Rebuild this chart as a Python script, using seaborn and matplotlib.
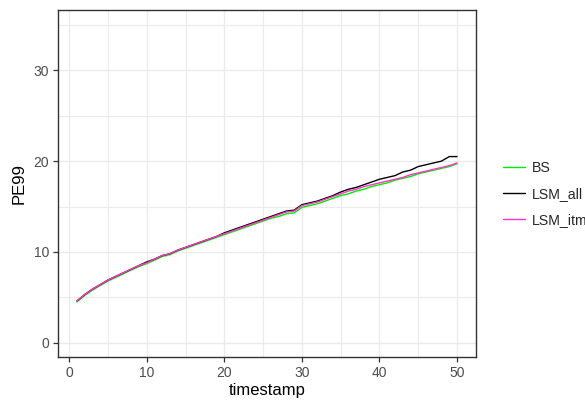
import numpy as np
import pandas as pd
import matplotlib
matplotlib.use('Agg')
import matplotlib.pyplot as plt
import seaborn as sns
from matplotlib.ticker import MultipleLocator

timestamp = list(range(1, 51))

bs = [4.5, 5.2, 5.8, 6.3, 6.8, 7.2, 7.6, 8.0, 8.4, 8.7,
      9.1, 9.5, 9.7, 10.1, 10.4, 10.7, 11.0, 11.3, 11.6, 11.9,
      12.2, 12.5, 12.8, 13.1, 13.4, 13.7, 13.9, 14.2, 14.3, 14.9,
      15.1, 15.3, 15.6, 15.9, 16.2, 16.4, 16.7, 16.9, 17.2, 17.4,
      17.6, 17.9, 18.1, 18.3, 18.6, 18.8, 19.0, 19.2, 19.4, 19.7]

lsm_all = [4.6, 5.3, 5.9, 6.4, 6.9, 7.3, 7.7, 8.1, 8.5, 8.9,
           9.2, 9.6, 9.8, 10.2, 10.5, 10.8, 11.1, 11.4, 11.7, 12.1,
           12.4, 12.7, 13.0, 13.3, 13.6, 13.9, 14.2, 14.5, 14.6, 15.2,
           15.4, 15.6, 15.9, 16.2, 16.6, 16.9, 17.1, 17.4, 17.7, 18.0,
           18.2, 18.4, 18.8, 19.0, 19.4, 19.6, 19.8, 20.0, 20.5, 20.5]

lsm_itm = [4.6, 5.3, 5.9, 6.4, 6.9, 7.3, 7.7, 8.1, 8.5, 8.8,
           9.2, 9.6, 9.8, 10.2, 10.5, 10.8, 11.1, 11.4, 11.7, 12.0,
           12.3, 12.6, 12.9, 13.2, 13.5, 13.8, 14.1, 14.4, 14.5, 15.1,
           15.3, 15.5, 15.8, 16.1, 16.4, 16.7, 16.9, 17.2, 17.4, 17.6,
           17.8, 18.0, 18.2, 18.5, 18.7, 18.9, 19.1, 19.3, 19.5, 19.8]

series = ['BS', 'LSM_all', 'LSM_itm']
colors = {'BS': '#00EE00', 'LSM_all': '#000000', 'LSM_itm': '#FF33CC'}

df = pd.DataFrame({
    'timestamp': timestamp * 3,
    'PE99': bs + lsm_all + lsm_itm,
    'method': ['BS'] * 50 + ['LSM_all'] * 50 + ['LSM_itm'] * 50,
})

sns.set_style('white')
plt.rcParams['font.family'] = ['Liberation Sans', 'DejaVu Sans']

fig = plt.figure(figsize=(5.85, 4.03), dpi=100)
ax = fig.add_axes([0.0991, 0.1141, 0.7146, 0.8623])

sns.lineplot(data=df, x='timestamp', y='PE99', hue='method', hue_order=series,
             palette=colors, linewidth=1.0, ax=ax, legend=False)

ax.set_xlim(-1.45, 52.45)
ax.set_ylim(-1.58, 36.7)
ax.xaxis.set_major_locator(MultipleLocator(10))
ax.yaxis.set_major_locator(MultipleLocator(10))
ax.xaxis.set_minor_locator(MultipleLocator(5))
ax.yaxis.set_minor_locator(MultipleLocator(5))
ax.grid(which='major', color='#EBEBEB', linewidth=1.0)
ax.grid(which='minor', color='#EBEBEB', linewidth=0.8)
ax.set_axisbelow(True)
for s in ax.spines.values():
    s.set_color('#333333')
    s.set_linewidth(1.0)
ax.tick_params(which='major', axis='both', length=3.5, width=0.9, color='#333333',
               labelcolor='#4D4D4D', labelsize=10, pad=3, bottom=True, left=True)
ax.tick_params(which='minor', length=0)
ax.set_xlabel('timestamp', fontsize=12, color='black', labelpad=2)
ax.set_ylabel('PE99', fontsize=12, color='black', labelpad=5)

handles = [plt.Line2D([], [], color=colors[s], linewidth=1.0) for s in series]
fig.legend(handles, series, loc='center left', bbox_to_anchor=(0.860, 0.518),
           frameon=False, fontsize=10.2, handlelength=1.55, handletextpad=0.5,
           labelspacing=0.85, borderaxespad=0, borderpad=0)

fig.savefig('out.png', dpi=100)
plt.close(fig)
